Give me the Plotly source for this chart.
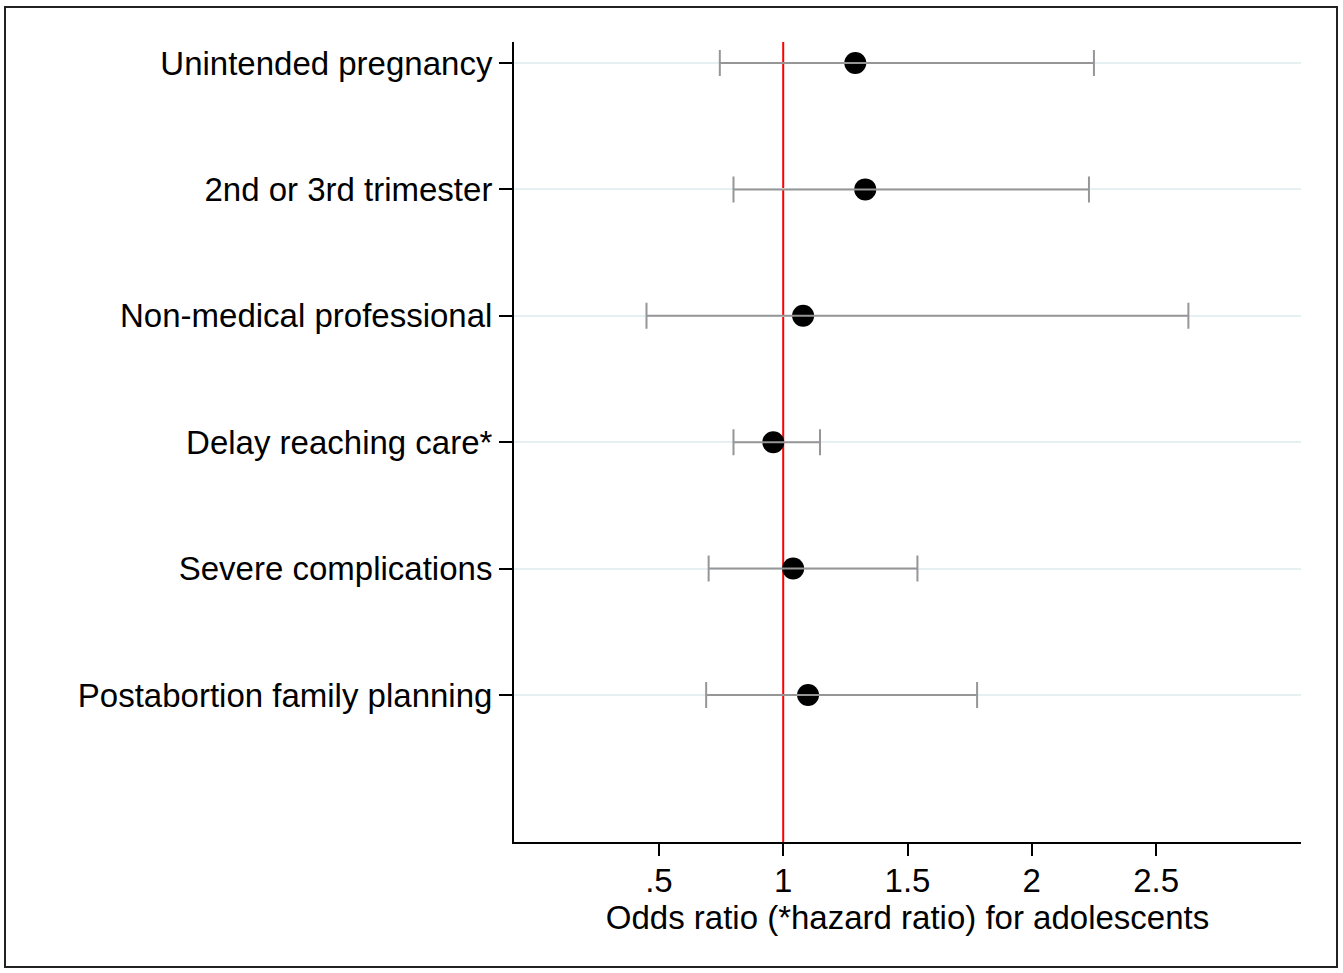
import plotly.graph_objects as go

categories = ["Unintended pregnancy", "2nd or 3rd trimester", "Non-medical professional",
              "Delay reaching care*", "Severe complications", "Postabortion family planning"]
positions = [1, 2, 3, 4, 5, 6]
estimate = [1.29, 1.33, 1.08, 0.96, 1.04, 1.10]
ci_low = [0.745, 0.80, 0.45, 0.80, 0.70, 0.69]
ci_high = [2.25, 2.23, 2.63, 1.148, 1.54, 1.78]
x_tickvals = [0.5, 1, 1.5, 2, 2.5]
x_ticktext = [".5", "1", "1.5", "2", "2.5"]
ref_value = 1

W, H = 1343, 973
L, R, T, B = 514, 42, 42, 131
pw, ph = W - L - R, H - T - B

err_plus = [h - e for h, e in zip(ci_high, estimate)]
err_minus = [e - l for e, l in zip(estimate, ci_low)]

fig = go.Figure()
fig.add_trace(go.Scatter(
    x=estimate, y=positions, mode="markers",
    marker=dict(color="black", size=22, line=dict(width=0)),
    showlegend=False, hoverinfo="skip"))
fig.add_trace(go.Scatter(
    x=estimate, y=positions, mode="markers",
    marker=dict(color="rgba(0,0,0,0)", size=1),
    error_x=dict(type="data", symmetric=False, array=err_plus, arrayminus=err_minus,
                 color="#969696", thickness=2, width=13),
    showlegend=False, hoverinfo="skip"))

fig.add_shape(type="line", xref="x", yref="paper", x0=ref_value, x1=ref_value, y0=0, y1=1,
              line=dict(color="#ff0000", width=2), layer="between")

# outer frame
fig.add_shape(type="rect", xref="paper", yref="paper",
              x0=(5 - L) / pw, x1=(1337 - L) / pw,
              y0=(T + ph - 967) / ph, y1=(T + ph - 7) / ph,
              line=dict(color="#222222", width=2), fillcolor="rgba(0,0,0,0)", layer="above")

font_family = "Liberation Sans, Arial, sans-serif"
fig.update_layout(
    width=W, height=H,
    margin=dict(l=L, r=R, t=T, b=B, autoexpand=False),
    paper_bgcolor="white", plot_bgcolor="white",
    font=dict(family=font_family, size=33, color="black"),
    xaxis=dict(range=[-0.083, 3.083], tickvals=x_tickvals, ticktext=x_ticktext,
               showgrid=False, zeroline=False, showline=True, linecolor="black", linewidth=2,
               ticks="outside", ticklen=12, tickwidth=2, tickcolor="black",
               ticklabelstandoff=-4,
               tickfont=dict(size=33, family=font_family),
               title=dict(text="Odds ratio (*hazard ratio) for adolescents",
                          font=dict(size=33, family=font_family), standoff=0),
               automargin=False, fixedrange=True),
    yaxis=dict(range=[7.163, 0.834], tickvals=positions, ticktext=categories,
               showgrid=True, gridcolor="#e6eff2", gridwidth=2, zeroline=False,
               showline=True, linecolor="black", linewidth=2,
               ticks="outside", ticklen=13, tickwidth=2, tickcolor="black",
               tickfont=dict(size=33, family=font_family),
               automargin=False, fixedrange=True),
)

fig.write_html("out.html", config={"displayModeBar": False},
               post_script="document.body.style.margin='0';")
